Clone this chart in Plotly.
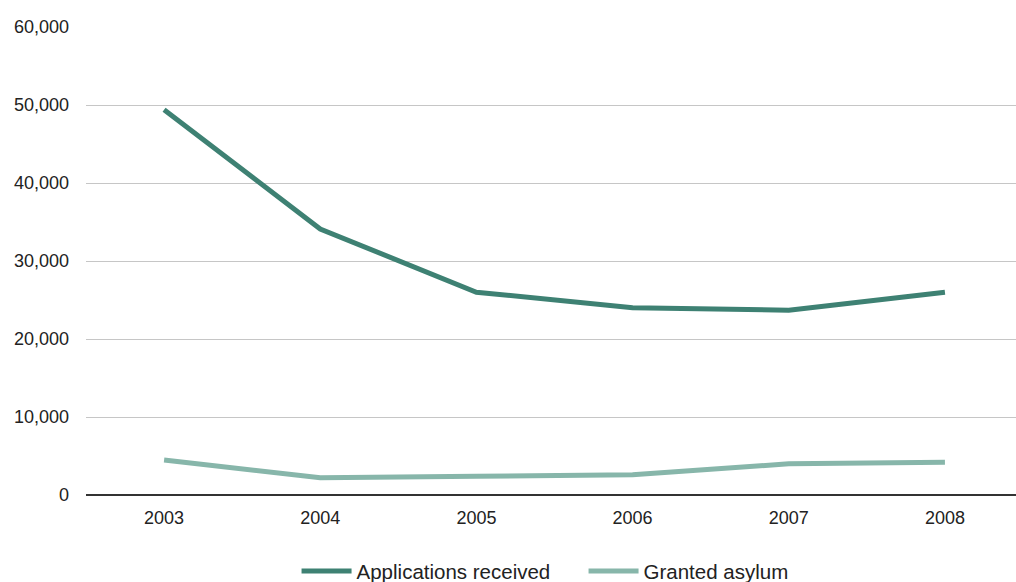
import plotly.graph_objects as go

years = ["2003", "2004", "2005", "2006", "2007", "2008"]
applications = [49400, 34100, 26000, 24000, 23700, 26000]
granted = [4500, 2200, 2400, 2600, 4000, 4200]
y_ticks = [0, 10000, 20000, 30000, 40000, 50000, 60000]

fig = go.Figure()
fig.add_trace(go.Scatter(
    x=years, y=applications, mode="lines", name="Applications received",
    line=dict(color="#3e8173", width=5),
))
fig.add_trace(go.Scatter(
    x=years, y=granted, mode="lines", name="Granted asylum",
    line=dict(color="#87b6aa", width=5),
))

fig.update_layout(
    width=1016, height=582,
    margin=dict(l=86, r=0, t=27, b=87, autoexpand=False),
    paper_bgcolor="white", plot_bgcolor="white",
    font=dict(family="Liberation Sans, Arial, sans-serif", size=18, color="#222222"),
    showlegend=True,
    legend=dict(orientation="h", x=0.535, xanchor="center",
                yref="container", y=0.053, yanchor="top",
                font=dict(size=20.5, color="#222222"), itemwidth=50,
                entrywidth=222, tracegroupgap=0),
    xaxis=dict(type="category", range=[-0.5, 5.455], showgrid=False,
               showline=False, ticks="", ticklabelstandoff=10,
               fixedrange=True),
    yaxis=dict(range=[0, 60000], tickvals=y_ticks,
               ticktext=[f"{v:,}" for v in y_ticks],
               showgrid=True, gridcolor="#c6c6c6", gridwidth=1,
               zeroline=True, zerolinecolor="#333333", zerolinewidth=1.5,
               showline=False, ticks="", ticklabelstandoff=16),
)

fig.write_html("out.html")
